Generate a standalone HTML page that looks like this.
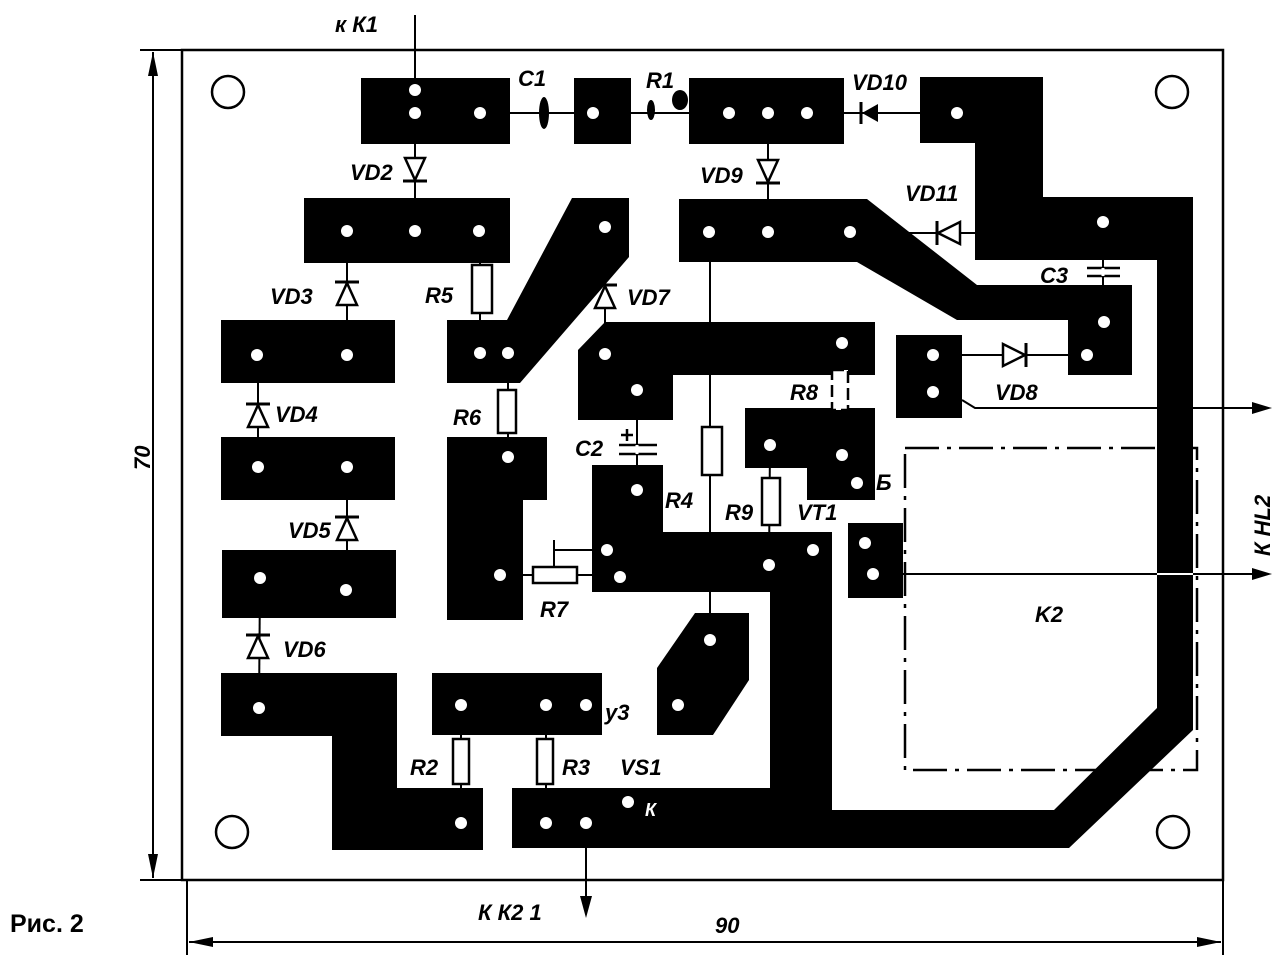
<!DOCTYPE html>
<html><head><meta charset="utf-8"><style>
html,body{margin:0;padding:0;background:#fff;}
svg{display:block;}
text{font-family:"Liberation Sans",sans-serif;font-style:italic;font-weight:bold;font-size:22px;fill:#000;}
</style></head><body>
<svg width="1284" height="975" viewBox="0 0 1284 975" xmlns="http://www.w3.org/2000/svg">
<rect x="182" y="50" width="1041" height="830" fill="none" stroke="#000" stroke-width="2.5"/>
<line x1="140" y1="50" x2="182" y2="50" stroke="#000" stroke-width="2"/>
<line x1="140" y1="880" x2="182" y2="880" stroke="#000" stroke-width="2"/>
<line x1="153" y1="52" x2="153" y2="878" stroke="#000" stroke-width="2"/>
<polygon points="153,52 148,76 158,76" fill="#000"/>
<polygon points="153,878 148,854 158,854" fill="#000"/>
<line x1="187" y1="880" x2="187" y2="955" stroke="#000" stroke-width="2"/>
<line x1="1223" y1="880" x2="1223" y2="955" stroke="#000" stroke-width="2"/>
<line x1="189" y1="942" x2="1221" y2="942" stroke="#000" stroke-width="2"/>
<polygon points="189,942 213,937 213,947" fill="#000"/>
<polygon points="1221,942 1197,937 1197,947" fill="#000"/>
<text x="0" y="0" transform="translate(150,470) rotate(-90)">70</text>
<text x="715" y="933">90</text>
<text x="10" y="932" style="font-style:normal;font-size:25px">Рис. 2</text>

<g fill="none" stroke="#000" stroke-width="2.5">
<circle cx="228" cy="92" r="16"/><circle cx="1172" cy="92" r="16"/>
<circle cx="232" cy="832" r="16"/><circle cx="1173" cy="832" r="16"/>
</g>

<rect x="905" y="448" width="292" height="322" fill="none" stroke="#000" stroke-width="2.5" stroke-dasharray="34,8,4,8"/>

<g fill="#000">
<rect x="361" y="78" width="149" height="66"/>
<rect x="574" y="78" width="57" height="66"/>
<rect x="689" y="78" width="155" height="66"/>
<polygon points="592,465 663,465 663,532 832,532 832,810 1054,810 1157,708 1157,260 975,260 975,143 920,143 920,77 1043,77 1043,197 1193,197 1193,730 1069,848 512,848 512,788 770,788 770,592 592,592"/>
<polygon points="679,199 867,199 977,285 1132,285 1132,375 1068,375 1068,320 957,320 857,262 679,262"/>
<rect x="896" y="335" width="66" height="83"/>
<rect x="304" y="198" width="206" height="65"/>
<polygon points="447,320 507,320 572,198 629,198 629,257 520,383 447,383"/>
<polygon points="447,437 547,437 547,500 523,500 523,620 447,620"/>
<polygon points="605,322 875,322 875,375 673,375 673,420 578,420 578,350"/>
<polygon points="745,408 875,408 875,500 807,500 807,468 745,468"/>
<rect x="848" y="523" width="55" height="75"/>
<polygon points="695,613 749,613 749,680 713,735 657,735 657,668"/>
<rect x="221" y="320" width="174" height="63"/>
<rect x="221" y="437" width="174" height="63"/>
<rect x="222" y="550" width="174" height="68"/>
<polygon points="221,673 397,673 397,788 483,788 483,850 332,850 332,736 221,736"/>
<rect x="432" y="673" width="170" height="62"/>
</g>

<g stroke="#000" stroke-width="2" fill="none">
<line x1="415" y1="15" x2="415" y2="230"/>
<line x1="480" y1="113" x2="593" y2="113"/>
<line x1="631" y1="113" x2="689" y2="113"/>
<line x1="807" y1="113" x2="957" y2="113"/>
<line x1="768" y1="113" x2="768" y2="232"/>
<line x1="347" y1="231" x2="347" y2="355"/>
<line x1="480" y1="231" x2="480" y2="320"/>
<line x1="605" y1="227" x2="605" y2="354"/>
<line x1="258" y1="355" x2="258" y2="467"/>
<line x1="347" y1="467" x2="347" y2="590"/>
<line x1="260" y1="578" x2="259" y2="708"/>
<line x1="508" y1="353" x2="508" y2="457"/>
<line x1="710" y1="232" x2="710" y2="642"/>
<line x1="842" y1="343" x2="842" y2="455"/>
<line x1="637" y1="390" x2="637" y2="490"/>
<line x1="770" y1="445" x2="769" y2="565"/>
<line x1="461" y1="705" x2="461" y2="823"/>
<line x1="546" y1="705" x2="546" y2="823"/>
<line x1="500" y1="575" x2="607" y2="575"/>
<line x1="554" y1="540" x2="554" y2="567"/>
<line x1="554" y1="550" x2="607" y2="550"/>
<line x1="900" y1="233" x2="975" y2="233"/>
<line x1="1103" y1="222" x2="1103" y2="322"/>
<line x1="933" y1="355" x2="1068" y2="355"/>
<polyline points="962,400 975,408 1157,408"/>
<line x1="1193" y1="408" x2="1255" y2="408"/>
<line x1="903" y1="574" x2="1157" y2="574"/>
<line x1="1193" y1="574" x2="1255" y2="574"/>
<line x1="586" y1="823" x2="586" y2="900"/>
</g>
<line x1="1157" y1="574" x2="1193" y2="574" stroke="#fff" stroke-width="2"/>
<line x1="1157" y1="408" x2="1193" y2="408" stroke="#000" stroke-width="2"/>
<polygon points="1272,408 1252,402 1252,414" fill="#000"/>
<polygon points="1272,574 1252,568 1252,580" fill="#000"/>
<polygon points="586,918 580,896 592,896" fill="#000"/>

<g fill="#fff" stroke="#000" stroke-width="2.5">
<rect x="472" y="265" width="20" height="48"/>
<rect x="498" y="390" width="18" height="43"/>
<rect x="702" y="427" width="20" height="48"/>
<rect x="762" y="478" width="18" height="47"/>
<rect x="832" y="370" width="16" height="40" stroke-dasharray="12,5"/>
<rect x="533" y="567" width="44" height="16"/>
<rect x="453" y="739" width="16" height="45"/>
<rect x="537" y="739" width="16" height="45"/>
</g>
<ellipse cx="544" cy="113" rx="5" ry="16" fill="#000"/>
<ellipse cx="651" cy="110" rx="4" ry="10" fill="#000"/>
<ellipse cx="680" cy="100" rx="8" ry="10" fill="#000"/>
<g stroke="#000" stroke-width="2.5">
<line x1="619" y1="445" x2="657" y2="445"/><line x1="619" y1="454" x2="657" y2="454"/>
<line x1="621" y1="435" x2="633" y2="435"/><line x1="627" y1="429" x2="627" y2="441"/>
<line x1="1087" y1="268" x2="1120" y2="268"/><line x1="1087" y1="276" x2="1120" y2="276"/>
</g>
<line x1="1103" y1="268" x2="1103" y2="276" stroke="#fff" stroke-width="3"/>
<line x1="637" y1="445" x2="637" y2="454" stroke="#fff" stroke-width="3"/>

<g fill="#fff" stroke="#000" stroke-width="2.5">
<polygon points="405,158 425,158 415,180"/>
<polygon points="758,160 778,160 768,182"/>
<polygon points="337,305 357,305 347,283"/>
<polygon points="595,308 615,308 605,286"/>
<polygon points="248,427 268,427 258,405"/>
<polygon points="337,540 357,540 347,518"/>
<polygon points="248,658 268,658 258,636"/>
<polygon points="960,222 960,244 938,233"/>
<polygon points="1003,344 1003,366 1025,355"/>
</g>
<polygon points="878,104 878,122 862,113" fill="#000"/>
<g stroke="#000" stroke-width="3">
<line x1="403" y1="181" x2="427" y2="181"/>
<line x1="756" y1="183" x2="780" y2="183"/>
<line x1="335" y1="282" x2="359" y2="282"/>
<line x1="593" y1="285" x2="617" y2="285"/>
<line x1="246" y1="404" x2="270" y2="404"/>
<line x1="335" y1="517" x2="359" y2="517"/>
<line x1="246" y1="635" x2="270" y2="635"/>
<line x1="937" y1="221" x2="937" y2="245"/>
<line x1="1026" y1="343" x2="1026" y2="367"/>
<line x1="861" y1="102" x2="861" y2="124"/>
</g>

<g fill="#fff">
<circle cx="415" cy="90" r="6"/><circle cx="415" cy="113" r="6"/><circle cx="480" cy="113" r="6"/>
<circle cx="593" cy="113" r="6"/>
<circle cx="729" cy="113" r="6"/><circle cx="768" cy="113" r="6"/><circle cx="807" cy="113" r="6"/>
<circle cx="957" cy="113" r="6"/>
<circle cx="347" cy="231" r="6"/><circle cx="415" cy="231" r="6"/><circle cx="479" cy="231" r="6"/>
<circle cx="605" cy="227" r="6"/>
<circle cx="709" cy="232" r="6"/><circle cx="768" cy="232" r="6"/><circle cx="850" cy="232" r="6"/>
<circle cx="1103" cy="222" r="6"/><circle cx="1104" cy="322" r="6"/><circle cx="1087" cy="355" r="6"/>
<circle cx="933" cy="355" r="6"/><circle cx="933" cy="392" r="6"/>
<circle cx="480" cy="353" r="6"/><circle cx="508" cy="353" r="6"/>
<circle cx="605" cy="354" r="6"/><circle cx="637" cy="390" r="6"/><circle cx="842" cy="343" r="6"/>
<circle cx="770" cy="445" r="6"/><circle cx="842" cy="455" r="6"/><circle cx="857" cy="483" r="6"/>
<circle cx="508" cy="457" r="6"/><circle cx="500" cy="575" r="6"/>
<circle cx="637" cy="490" r="6"/><circle cx="607" cy="550" r="6"/><circle cx="620" cy="577" r="6"/>
<circle cx="769" cy="565" r="6"/><circle cx="813" cy="550" r="6"/>
<circle cx="865" cy="543" r="6"/><circle cx="873" cy="574" r="6"/>
<circle cx="710" cy="640" r="6"/><circle cx="678" cy="705" r="6"/>
<circle cx="257" cy="355" r="6"/><circle cx="347" cy="355" r="6"/>
<circle cx="258" cy="467" r="6"/><circle cx="347" cy="467" r="6"/>
<circle cx="260" cy="578" r="6"/><circle cx="346" cy="590" r="6"/>
<circle cx="259" cy="708" r="6"/><circle cx="461" cy="823" r="6"/>
<circle cx="461" cy="705" r="6"/><circle cx="546" cy="705" r="6"/><circle cx="586" cy="705" r="6"/>
<circle cx="546" cy="823" r="6"/><circle cx="586" cy="823" r="6"/><circle cx="628" cy="802" r="6"/>
</g>

<text x="335" y="32">к К1</text>
<text x="518" y="86">C1</text>
<text x="646" y="88">R1</text>
<text x="852" y="90">VD10</text>
<text x="350" y="180">VD2</text>
<text x="700" y="183">VD9</text>
<text x="905" y="201">VD11</text>
<text x="270" y="304">VD3</text>
<text x="425" y="303">R5</text>
<text x="627" y="305">VD7</text>
<text x="1040" y="283">C3</text>
<text x="790" y="400">R8</text>
<text x="995" y="400">VD8</text>
<text x="275" y="422">VD4</text>
<text x="453" y="425">R6</text>
<text x="575" y="456">C2</text>
<text x="665" y="508">R4</text>
<text x="725" y="520">R9</text>
<text x="797" y="520">VT1</text>
<text x="876" y="490">Б</text>
<text x="288" y="538">VD5</text>
<text x="540" y="617">R7</text>
<text x="1035" y="622">K2</text>
<text x="283" y="657">VD6</text>
<text x="605" y="720">у3</text>
<text x="410" y="775">R2</text>
<text x="562" y="775">R3</text>
<text x="620" y="775">VS1</text>
<text x="645" y="816" style="font-size:18px;fill:#fff">К</text>
<text x="478" y="920">К  К2 1</text>
<text x="0" y="0" transform="translate(1270,556) rotate(-90)">К HL2</text>
</svg>
</body></html>
